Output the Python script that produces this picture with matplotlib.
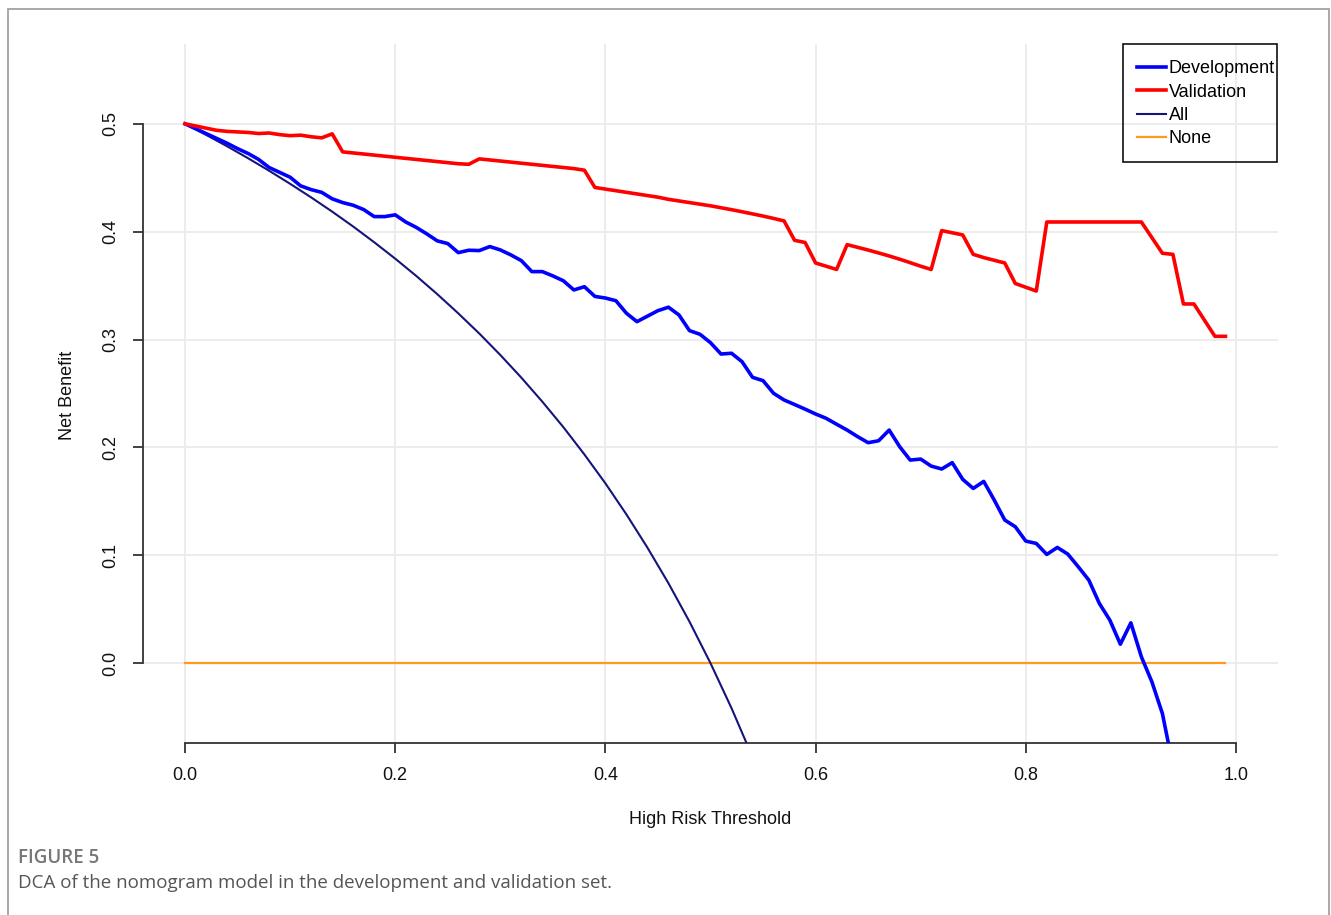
import numpy as np
import matplotlib
matplotlib.use("Agg")
import matplotlib.pyplot as plt
from matplotlib.patches import Rectangle

plt.rcParams["font.family"] = ["Liberation Sans", "DejaVu Sans"]

# thresholds 0.00 .. 0.99
thresholds = np.arange(100) / 100

validation = [
    0.500, 0.498, 0.496, 0.494, 0.493, 0.4925, 0.492, 0.491, 0.4915, 0.490,
    0.489, 0.4895, 0.488, 0.487, 0.4907, 0.474, 0.473, 0.472, 0.471, 0.470,
    0.469, 0.468, 0.467, 0.466, 0.465, 0.464, 0.463, 0.4625, 0.4675, 0.4665,
    0.4655, 0.4645, 0.4635, 0.4625, 0.4615, 0.4605, 0.4595, 0.4585, 0.457, 0.441,
    0.4395, 0.438, 0.4365, 0.435, 0.4335, 0.432, 0.430, 0.4285, 0.427, 0.4255,
    0.424, 0.4222, 0.4204, 0.4185, 0.4165, 0.4145, 0.4123, 0.410, 0.392, 0.390,
    0.371, 0.368, 0.365, 0.388, 0.3855, 0.383, 0.3803, 0.3775, 0.3745, 0.3713,
    0.368, 0.365, 0.401, 0.399, 0.397, 0.379, 0.376, 0.3735, 0.371, 0.352,
    0.3485, 0.345, 0.409, 0.409, 0.409, 0.409, 0.409, 0.409, 0.409, 0.409,
    0.409, 0.409, 0.3945, 0.380, 0.379, 0.333, 0.333, 0.318, 0.303, 0.303,
]

development = [
    0.500, 0.4955, 0.491, 0.4865, 0.482, 0.477, 0.4725, 0.467, 0.4595, 0.455,
    0.4505, 0.4425, 0.439, 0.4365, 0.4305, 0.427, 0.4245, 0.4205, 0.414, 0.414,
    0.4156, 0.409, 0.404, 0.398, 0.3915, 0.389, 0.3806, 0.3828, 0.3825, 0.3862,
    0.3831, 0.3785, 0.3732, 0.363, 0.363, 0.359, 0.3545, 0.346, 0.349, 0.340,
    0.3385, 0.336, 0.3244, 0.3166, 0.3217, 0.3268, 0.330, 0.3228, 0.3083, 0.3049,
    0.2971, 0.2866, 0.2873, 0.2795, 0.265, 0.2619, 0.2502, 0.244, 0.2398, 0.2355,
    0.231, 0.227, 0.2215, 0.2161, 0.210, 0.2044, 0.2062, 0.2161, 0.2007, 0.1883,
    0.1892, 0.1827, 0.180, 0.1859, 0.1704, 0.162, 0.1685, 0.1512, 0.1327, 0.1265,
    0.1132, 0.111, 0.1008, 0.1073, 0.1011, 0.0893, 0.077, 0.0554, 0.0399, 0.0176,
    0.0374, 0.0059, -0.0173, -0.0467, -0.095,
]

# treat-all curve, read every 0.02
all_thresholds = np.arange(29) * 0.02
all_values = [
    0.500, 0.4898, 0.4792, 0.4681, 0.4565, 0.4444, 0.4318, 0.4186, 0.4048, 0.3902,
    0.375, 0.359, 0.3421, 0.3243, 0.3056, 0.2857, 0.2647, 0.2424, 0.2188, 0.1935,
    0.1667, 0.1379, 0.1071, 0.0741, 0.0385, 0.0, -0.0417, -0.087, -0.1364,
]

none_values = [0.0] * len(thresholds)

fig = plt.figure(figsize=(13.31, 9.15), dpi=100)
ax = fig.add_axes([143 / 1331, 1 - 743 / 915, 1135 / 1331, 699 / 915])

ax.set_xlim(-0.04, 1.04)
ax.set_ylim(-0.074, 0.574)

xt = [0.0, 0.2, 0.4, 0.6, 0.8, 1.0]
yt = [0.0, 0.1, 0.2, 0.3, 0.4, 0.5]
for v in xt:
    ax.axvline(v, color="#ebebeb", lw=1.3, zorder=0)
for v in yt:
    ax.axhline(v, color="#ebebeb", lw=1.3, zorder=0)

ax.plot(thresholds, none_values, color="#ff9a1f", lw=1.6, zorder=2)
ax.plot(all_thresholds, all_values, color="#14147a", lw=1.5, zorder=3)
ax.plot(thresholds[:len(development)], development, color="#0000ff", lw=2.6, zorder=4)
ax.plot(thresholds, validation, color="#ff0000", lw=2.6, zorder=5)

for s in ["top", "right"]:
    ax.spines[s].set_visible(False)
ax.spines["bottom"].set_bounds(0, 1)
ax.spines["left"].set_bounds(0, 0.5)
for s in ["bottom", "left"]:
    ax.spines[s].set_color("#333333")
    ax.spines[s].set_linewidth(1.3)

ax.set_xticks(xt)
ax.set_xticklabels([f"{v:.1f}" for v in xt])
ax.set_yticks(yt)
ax.set_yticklabels([f"{v:.1f}" for v in yt], rotation=90, va="center")
ax.tick_params(axis="both", direction="out", length=7, width=1.3, color="#333333",
               labelsize=13, labelcolor="#111111")
ax.tick_params(axis="x", pad=10.5)
ax.tick_params(axis="y", pad=10)

fig.text(710 / 1331, 1 - 820 / 915, "High Risk Threshold", ha="center", va="center",
         fontsize=13, color="#111111")
fig.text(67 / 1331, 1 - 395 / 915, "Net Benefit", ha="center", va="center",
         rotation=90, fontsize=13, color="#111111")

# legend: text runs almost to the box edge, so the box is drawn separately
handles = [
    plt.Line2D([], [], color="#0000ff", lw=2.6),
    plt.Line2D([], [], color="#ff0000", lw=2.6),
    plt.Line2D([], [], color="#14147a", lw=1.5),
    plt.Line2D([], [], color="#ff9a1f", lw=1.6),
]
leg = ax.legend(handles, ["Development", "Validation", "All", "None"],
                loc="upper right", bbox_to_anchor=(1 + 13 / 1135, 1.0),
                borderaxespad=0, frameon=False, fontsize=13,
                handlelength=1.6, handletextpad=0.15, labelspacing=0.35,
                borderpad=0.9)
fig.patches.append(Rectangle((1123 / 1331, 1 - 162 / 915), 154 / 1331, 118 / 915,
                             transform=fig.transFigure, fill=False,
                             edgecolor="#111111", lw=1.2, zorder=6))

# caption
fig.text(18 / 1331, 1 - 858 / 915, "FIGURE 5", ha="left", va="center",
         fontsize=13.5, color="#777777", family="Open Sans", fontweight="semibold")
fig.text(18 / 1331, 1 - 883 / 915,
         "DCA of the nomogram model in the development and validation set.",
         ha="left", va="center", fontsize=13.5, color="#555555", family="Open Sans")

# outer frame
fig.patches.append(Rectangle((8 / 1331, -0.01), 1321 / 1331, 1 - 9 / 915 + 0.01,
                             transform=fig.transFigure, fill=False,
                             edgecolor="#9a9a9a", lw=1.2))

fig.savefig("out.png", dpi=100)
